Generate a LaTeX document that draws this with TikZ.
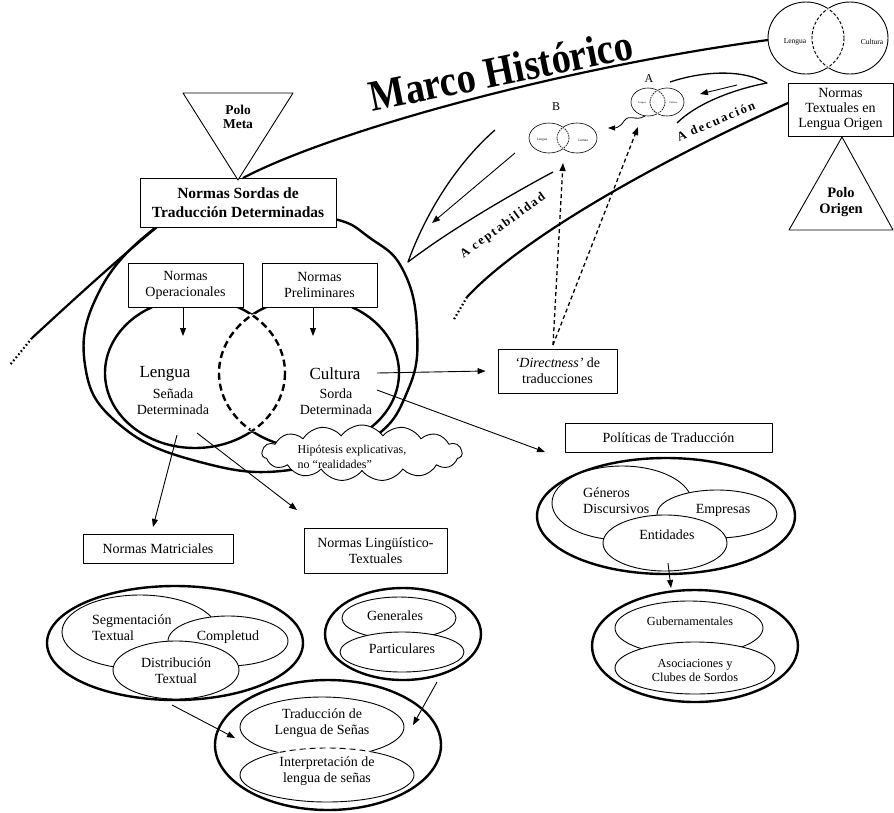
\documentclass[tikz,border=0pt]{standalone}
\usepackage{fontspec}
\setmainfont{Liberation Serif}
\usepackage{graphicx}
\usetikzlibrary{arrows.meta,shapes.geometric,shapes.symbols}
\newcommand\fsz[2]{\fontsize{#1}{#2}\selectfont}
\newcommand\ls{\kern2pt}
% two equal ellipses side by side, lens drawn dashed
\newcommand\mkvenn[7]{%
  \draw[line width=#6] (#1,#3) ellipse [x radius=#4, y radius=#5];
  \draw[line width=#6] (#2,#3) ellipse [x radius=#4, y radius=#5];
  \begin{scope}
    \clip (#1,#3) ellipse [x radius=#4, y radius=#5];
    \draw[white, line width=#6*1.8] (#2,#3) ellipse [x radius=#4, y radius=#5];
    \draw[line width=#6, dash pattern=#7] (#2,#3) ellipse [x radius=#4, y radius=#5];
  \end{scope}
  \begin{scope}
    \clip (#2,#3) ellipse [x radius=#4, y radius=#5];
    \draw[white, line width=#6*1.8] (#1,#3) ellipse [x radius=#4, y radius=#5];
    \draw[line width=#6, dash pattern=#7] (#1,#3) ellipse [x radius=#4, y radius=#5];
  \end{scope}}
\tikzset{
  box/.style={draw, line width=0.9pt, fill=white, align=center, inner sep=0pt, font=\fsz{14}{16}},
  txt/.style={align=center, inner sep=0pt, font=\fsz{14}{16}},
  ell/.style={ellipse, draw, fill=white, line width=0.9pt, inner sep=0pt},
  oell/.style={ell, line width=2.4pt},
  arr/.style={-{Triangle[length=8pt,width=6pt]}, line width=0.9pt},
  dasharr/.style={-{Triangle[length=8pt,width=6pt]}, line width=1.3pt, dash pattern=on 4pt off 3pt},
  thk/.style={line width=2.2pt},
  dotend/.style={line width=2.2pt, dash pattern=on 1.6pt off 2.4pt},
}
\begin{document}
\begin{tikzpicture}[x=1pt,y=-1pt,line join=round]
\useasboundingbox (0,0) rectangle (894,812);
\fill[white] (0,0) rectangle (894,812);

% ---------- historical frame lines ----------
\coordinate (arcS) at (243,178);
\coordinate (arcE) at (768,40);
\draw[thk] (arcS) .. controls (330,132) and (560,68) .. (arcE);

\coordinate (llS) at (157,227);
\coordinate (llM) at (32,338);
\coordinate (llE) at (10,365);
\draw[thk] (llS) .. controls (110,266) and (70,303) .. (llM);
\draw[dotend] (llM) -- (llE);

\coordinate (lrS) at (788,103);
\coordinate (lrM) at (467,297);
\coordinate (lrE) at (453,321);
\draw[thk] (lrS) .. controls (650,165) and (520,240) .. (lrM);
\draw[dotend] (lrM) -- (lrE);

% horn A (Adecuacion)
\draw[line width=1.3pt] (670,82) .. controls (700,72) and (740,68) .. (767,83)
      .. controls (730,90) and (695,105) .. (677,123);
\coordinate (aA1) at (737,85);
\coordinate (aA2) at (700,94);
\draw[arr] (aA1) -- (aA2);
% horn B (Aceptabilidad)
\draw[line width=1.3pt] (495,130) .. controls (455,165) and (425,215) .. (408,262)
      .. controls (450,230) and (510,195) .. (553,172);
\coordinate (aB1) at (515,153);
\coordinate (aB2) at (432,223);
\draw[arr] (aB1) -- (aB2);

\node[rotate=36, inner sep=0pt, font=\bfseries\fsz{12.5}{14}] (acep) at (503,226)
  {A\kern5pt c\ls e\ls p\ls t\ls a\ls b\ls i\ls l\ls i\ls d\ls a\ls d};
\node[rotate=23, inner sep=0pt, font=\bfseries\fsz{12.5}{14}] (adec) at (716,121)
  {A\kern5pt d\ls e\ls c\ls u\ls a\ls c\ls i\ls ó\ls n};

\node[rotate=11.5, anchor=base, inner sep=0pt, font=\bfseries\fsz{39}{41}] (marco) at (504,85)
  {\scalebox{0.98}[1.12]{Marco Histórico}};

% ---------- small Venns ----------
\mkvenn{806}{850}{38}{38}{36}{0.9pt}{on 3pt off 2pt}
\node[inner sep=0pt, font=\fsz{7.5}{8}] (vL) at (795,42) {Lengua};
\node[inner sep=0pt, font=\fsz{7.5}{8}] (vC) at (872,42) {Cultura};

\mkvenn{648}{667}{102}{17}{14}{0.6pt}{on 1.5pt off 1pt}
\node[inner sep=0pt, font=\fsz{2.6}{3}] (aL) at (642,103) {Lengua};
\node[inner sep=0pt, font=\fsz{2.6}{3}] (aC) at (673,103) {Cultura};
\node[inner sep=0pt, font=\fsz{12}{14}] (labA) at (649,79) {A};

\mkvenn{549}{577}{138}{20}{15}{0.6pt}{on 1.5pt off 1pt}
\node[inner sep=0pt, font=\fsz{3.4}{4}] (bL) at (542,140) {Lengua};
\node[inner sep=0pt, font=\fsz{3.4}{4}] (bC) at (583,140) {Cultura};
\node[inner sep=0pt, font=\fsz{12}{14}] (labB) at (556,107) {B};

\coordinate (wS) at (645,116);
\coordinate (wE) at (608,128);
\draw[-{Triangle[length=7pt,width=5pt]}, line width=0.8pt] (wS) .. controls (635,122) and (630,113) .. (624,121)
   .. controls (620,128) and (614,128) .. (wE);

% ---------- Normas Textuales / Polo Origen ----------
\node[box, minimum width=105pt, minimum height=53pt, font=\fsz{14}{15}] (ntl) at (840.5,109.5)
  {Normas\\Textuales en\\Lengua Origen};
\draw[line width=0.9pt, fill=white] (842,137) -- (893,230) -- (789,230) -- cycle;
\node[txt, font=\bfseries\fsz{14.5}{15.5}] (po) at (841,202) {Polo\\Origen};

% ---------- main Venn ----------
\draw[line width=2.4pt] plot[smooth cycle, tension=0.75] coordinates {
  (250,212) (330,218) (370,238) (403,270) (417,330) (408,390) (370,440)
  (290,470) (200,462) (120,425) (85,365) (100,290) (155,228) (195,214)};
\mkvenn{195}{309}{373}{90}{75}{2.4pt}{on 7pt off 4pt}

\node[box, font=\bfseries\fsz{15.5}{18.5}, minimum width=196pt, minimum height=49pt] (nsd) at (238,202.5)
  {Normas Sordas de\\Traducción Determinadas};
\draw[line width=0.9pt, fill=white] (183,93) -- (293,93) -- (238,180) -- cycle;
\node[txt, font=\bfseries\fsz{13.5}{14}] (pm) at (238,117) {Polo\\Meta};

\node[box, minimum width=115pt, minimum height=44pt] (nop) at (185.5,285) {Normas\\Operacionales};
\node[box, minimum width=115pt, minimum height=44pt] (npr) at (319.5,285) {Normas\\Preliminares};
\coordinate (nopA) at (183,336);
\coordinate (nprA) at (313,336);
\draw[arr] (nop.south -| nopA) -- (nopA);
\draw[arr] (npr.south -| nprA) -- (nprA);

\node[txt, font=\fsz{17}{19}] (leng) at (165,374) {Lengua};
\node[txt] (lengsub) at (173,401.5) {Señada\\Determinada};
\node[txt, font=\fsz{17}{19}] (cult) at (335,374) {Cultura};
\node[txt] (cultsub) at (336,401.5) {Sorda\\Determinada};

\node[cloud, cloud puffs=15, cloud puff arc=110, aspect=3.4, draw, fill=white, line width=0.9pt,
      minimum width=200pt, minimum height=56pt] (cloud) at (362,453) {};
\node[txt, align=left, font=\fsz{12}{15}] (hip) at (352,457) {Hipótesis explicativas,\\no “realidades”};

% ---------- Directness ----------
\node[box, minimum width=119pt, minimum height=44pt] (dir) at (557.5,371) {\textit{‘Directness’} de\\traducciones};
\coordinate (c1) at (377,373);
\draw[arr] (c1) -- ([xshift=-12pt]dir.west);
\coordinate (dtop) at (553,345);
\coordinate (dB) at (563,163);
\coordinate (dA) at (638,127);
\draw[dasharr] (dtop) -- (dB);
\draw[dasharr] (dtop) -- (dA);

% ---------- Politicas ----------
\node[box, minimum width=207pt, minimum height=29pt] (pol) at (668.5,437.5) {Políticas de Traducción};
\coordinate (c2) at (377,390);
\coordinate (polA) at (545,452);
\draw[arr] (c2) -- (polA);

\node[oell, minimum width=258pt, minimum height=116pt] (polO) at (666,516) {};
\node[ell, minimum width=140pt, minimum height=74pt] (gen) at (622,503) {};
\node[ell, minimum width=120pt, minimum height=48pt] (emp) at (717,514) {};
\node[ell, minimum width=124pt, minimum height=56pt] (ent) at (665,543) {};
\node[txt, align=left, anchor=west] (genT) at (583,500.5) {Géneros\\Discursivos};
\node[txt] (empT) at (723,510) {Empresas};
\node[txt] (entT) at (667,535) {Entidades};

\node[oell, minimum width=206pt, minimum height=112pt] (gubO) at (695,646) {};
\node[ell, minimum width=148pt, minimum height=54pt] (gub) at (689,628) {};
\node[ell, minimum width=160pt, minimum height=52pt] (aso) at (695,668) {};
\node[txt, font=\fsz{12.3}{14}] (gubT) at (690,621) {Gubernamentales};
\node[txt, font=\fsz{12.3}{14}] (asoT) at (695,670) {Asociaciones y\\Clubes de Sordos};
\coordinate (e1) at (668,563);
\coordinate (e2) at (671,588);
\draw[arr] (e1) -- (e2);

% ---------- lower left ----------
\coordinate (l1) at (177,435);
\coordinate (nmA) at (153,527);
\coordinate (l2) at (197,433);
\coordinate (nlA) at (297,510);
\draw[arr] (l1) -- (nmA);
\draw[arr] (l2) -- (nlA);

\node[box, minimum width=150pt, minimum height=29pt] (nmat) at (158,548.5) {Normas Matriciales};
\node[box, minimum width=143pt, minimum height=45pt] (nlin) at (375.5,550.5) {Normas Lingüístico-\\Textuales};

\node[oell, minimum width=256pt, minimum height=114pt] (segO) at (175,643) {};
\node[ell, minimum width=156pt, minimum height=74pt] (seg) at (140,632) {};
\node[ell, minimum width=120pt, minimum height=50pt] (comp) at (228,641) {};
\node[ell, minimum width=126pt, minimum height=58pt] (dist) at (176,670) {};
\node[txt, align=left, anchor=west] (segT) at (92,628) {Segmentación\\Textual};
\node[txt] (compT) at (228,637) {Completud};
\node[txt] (distT) at (176,670.5) {Distribución\\Textual};

\node[oell, minimum width=156pt, minimum height=92pt] (genO) at (403,634) {};
\node[ell, minimum width=114pt, minimum height=42pt] (gral) at (399,618) {};
\node[ell, minimum width=124pt, minimum height=40pt] (part) at (402,652) {};
\node[txt] (gralT) at (395,616) {Generales};
\node[txt] (partT) at (402,649) {Particulares};

% ---------- bottom group ----------
\node[oell, minimum width=226pt, minimum height=130pt] (traO) at (328,745) {};
\draw[line width=0.9pt, fill=white] (322,727) ellipse [x radius=82, y radius=30];
\draw[line width=0.9pt, fill=white] (327,775) ellipse [x radius=87, y radius=27];
\begin{scope}
  \clip (322,727) ellipse [x radius=82, y radius=30];
  \draw[white, line width=1.8pt] (327,775) ellipse [x radius=87, y radius=27];
  \draw[line width=0.9pt, dash pattern=on 6pt off 4pt] (327,775) ellipse [x radius=87, y radius=27];
\end{scope}
\node[txt] (traT) at (322,723.5) {Traducción de\\Lengua de Señas};
\node[txt] (intT) at (327,771) {Interpretación de\\lengua de señas};

\coordinate (g1) at (172,705);
\coordinate (g2) at (235,738);
\coordinate (h1) at (437,682);
\coordinate (h2) at (413,725);
\draw[arr] (g1) -- (g2);
\draw[arr] (h1) -- (h2);
\end{tikzpicture}
\end{document}
